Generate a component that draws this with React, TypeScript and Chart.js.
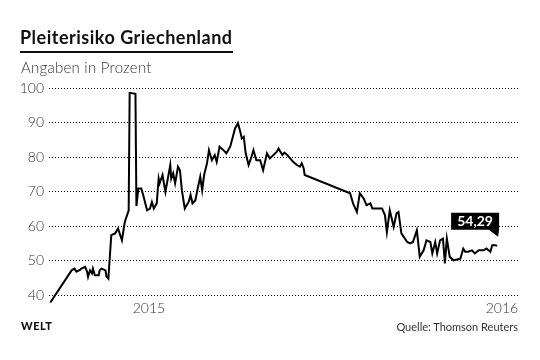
import React, { useEffect, useRef } from "react";
import { Chart, registerables } from "chart.js";

Chart.register(...registerables);

// Days relative to 1 Jan 2015
const days: number[] = [
  -102, -80, -77, -75, -71, -70, -66, -64, -63, -61, -59, -58, -56, -52, -51, -49, -45, -44, -42, -39,
  -35, -32, -28, -25, -21, -20, -14, -13, -11, -8, -6, -2, 1, 3, 5, 8, 10, 11, 14, 17,
  22, 23, 25, 27, 30, 32, 34, 37, 41, 43, 45, 48, 50, 53, 55, 57, 60, 62, 65, 68,
  70, 73, 77, 80, 84, 89, 92, 94, 96, 98, 100, 103, 106, 108, 111, 115, 118, 122, 125, 132,
  134, 136, 138, 140, 143, 146, 149, 153, 156, 158, 160, 161, 208, 211, 215, 218, 222, 225, 229, 231,
  241, 244, 246, 249, 253, 256, 258, 261, 267, 270, 273, 277, 280, 284, 287, 291, 293, 296, 298, 301,
  304, 306, 308, 311, 315, 322, 325, 327, 330, 334, 337, 341, 346, 349, 353, 355, 358, 360,
];

// Default risk in percent
const risk: number[] = [
  37.9, 47.2, 47.7, 46.8, 47.4, 47.7, 48.2, 46.8, 45.3, 47.2, 46.3, 47.7, 45.8, 45.8, 47.2, 47.7, 47.2, 45.5, 44.8, 57.4,
  57.9, 59.3, 55.9, 61.2, 64.6, 98.6, 98.3, 65.8, 70.9, 70.9, 69.0, 64.6, 65.1, 67.0, 65.1, 66.6, 73.8, 72.4, 74.8, 69.9,
  77.7, 73.8, 75.3, 72.4, 77.2, 76.2, 70.4, 65.1, 67.0, 69.0, 66.6, 67.5, 70.4, 74.3, 70.4, 74.8, 78.2, 82.0, 79.1, 80.6,
  78.6, 83.0, 82.0, 81.1, 83.0, 88.3, 89.8, 87.8, 85.4, 85.9, 81.1, 77.7, 80.1, 82.0, 79.1, 79.1, 76.2, 81.1, 79.6, 81.5,
  82.5, 81.5, 80.6, 81.3, 80.6, 79.6, 78.6, 77.7, 77.2, 78.2, 76.7, 74.8, 69.5, 66.6, 64.1, 69.5, 68.0, 66.1, 66.6, 65.1,
  65.1, 63.2, 58.3, 64.6, 59.8, 63.7, 64.1, 57.9, 55.4, 55.0, 55.4, 58.8, 51.1, 53.0, 55.9, 55.4, 52.1, 55.4, 52.1, 55.9,
  56.4, 49.2, 56.4, 51.1, 50.1, 50.6, 53.5, 52.6, 52.6, 53.0, 52.1, 53.0, 53.0, 53.5, 52.6, 54.5, 54.5, 54.29,
];

const xTickValues: number[] = [0, 365];
const xTickLabels: string[] = ["2015", "2016"];
const yTickValues: number[] = [40, 50, 60, 70, 80, 90, 100];

const FONT = "Lato, 'Open Sans', sans-serif";

const calloutPlugin = {
  id: "callout",
  afterDatasetsDraw(chart: any) {
    const meta = chart.getDatasetMeta(0);
    const pt = meta.data[meta.data.length - 1];
    if (!pt) return;
    const ctx = chart.ctx;
    const px = pt.x;
    const py = pt.y;
    const right = px + 2;
    const left = right - 48;
    const bottom = py - 16;
    const top = bottom - 17;
    ctx.save();
    ctx.fillStyle = "#000";
    ctx.beginPath();
    ctx.rect(left, top, right - left, bottom - top);
    ctx.fill();
    ctx.beginPath();
    ctx.moveTo(right - 11, bottom - 0.5);
    ctx.lineTo(right, bottom - 0.5);
    ctx.lineTo(right - 1, bottom + 7);
    ctx.closePath();
    ctx.fill();
    ctx.fillStyle = "#fff";
    ctx.font = `bold 14px ${FONT}`;
    ctx.textAlign = "center";
    ctx.textBaseline = "middle";
    const v = risk[risk.length - 1].toFixed(2).replace(".", ",");
    ctx.fillText(v, (left + right) / 2, (top + bottom) / 2 + 0.5);
    ctx.restore();
  },
};

export default function App() {
  const ref = useRef<HTMLCanvasElement | null>(null);

  useEffect(() => {
    if (!ref.current) return;
    const chart = new Chart(ref.current, {
      type: "line",
      data: {
        datasets: [
          {
            data: days.map((d, i) => ({ x: d, y: risk[i] })),
            borderColor: "#000",
            borderWidth: 2,
            pointRadius: 0,
            tension: 0,
            fill: false,
            clip: false as any,
          },
        ],
      },
      options: {
        animation: false,
        responsive: false,
        devicePixelRatio: 1,
        layout: { padding: { left: 0, right: 22, top: 88, bottom: 38 } },
        plugins: { legend: { display: false }, tooltip: { enabled: false } },
        scales: {
          x: {
            type: "linear",
            min: -103.4,
            max: 381.6,
            grid: { display: false, drawTicks: false },
            border: { display: false },
            afterBuildTicks: (scale: any) => {
              scale.ticks = xTickValues.map((v) => ({ value: v }));
            },
            ticks: {
              autoSkip: false,
              maxRotation: 0,
              padding: 5,
              color: "#333",
              font: { family: FONT, size: 14, weight: 300 as any },
              callback: (v: any) => {
                const i = xTickValues.indexOf(Number(v));
                return i >= 0 ? xTickLabels[i] : "";
              },
            },
          },
          y: {
            min: 40,
            max: 100,
            afterBuildTicks: (scale: any) => {
              scale.ticks = yTickValues.map((v) => ({ value: v }));
            },
            afterFit: (scale: any) => {
              scale.width = 49;
            },
            border: { display: false, dash: [1, 2] },
            grid: {
              color: "#000",
              lineWidth: 1,
              drawTicks: false,
            },
            ticks: {
              padding: 5,
              color: "#333",
              font: { family: FONT, size: 14, weight: 300 as any },
            },
          },
        },
      },
      plugins: [calloutPlugin],
    } as any);
    return () => chart.destroy();
  }, []);

  return (
    <div
      style={{
        position: "absolute",
        left: 0,
        top: 0,
        width: 540,
        height: 360,
        background: "#fff",
        fontFamily: FONT,
        overflow: "hidden",
      }}
    >
      <canvas ref={ref} width={540} height={360} style={{ position: "absolute", left: 0, top: 0, width: 540, height: 360 }} />
      <div
        style={{
          position: "absolute",
          left: 20,
          top: 26,
          fontSize: 18,
          fontWeight: 700,
          color: "#111",
          lineHeight: "22px",
          letterSpacing: 0.5,
          whiteSpace: "nowrap",
        }}
      >
        Pleiterisiko Griechenland
      </div>
      <div style={{ position: "absolute", left: 20, top: 51, width: 213, height: 2, background: "#111" }} />
      <div
        style={{
          position: "absolute",
          left: 21,
          top: 58,
          fontSize: 15,
          fontWeight: 300,
          color: "#333",
          lineHeight: "18px",
          letterSpacing: 0.25,
          whiteSpace: "nowrap",
        }}
      >
        Angaben in Prozent
      </div>
      <div
        style={{
          position: "absolute",
          left: 21,
          top: 319,
          fontSize: 11,
          fontWeight: 900,
          color: "#111",
          lineHeight: "14px",
          letterSpacing: 0.5,
        }}
      >
        WELT
      </div>
      <div
        style={{
          position: "absolute",
          right: 22,
          top: 320,
          fontSize: 11,
          fontWeight: 400,
          color: "#333",
          lineHeight: "14px",
          whiteSpace: "nowrap",
        }}
      >
        Quelle: Thomson Reuters
      </div>
    </div>
  );
}
